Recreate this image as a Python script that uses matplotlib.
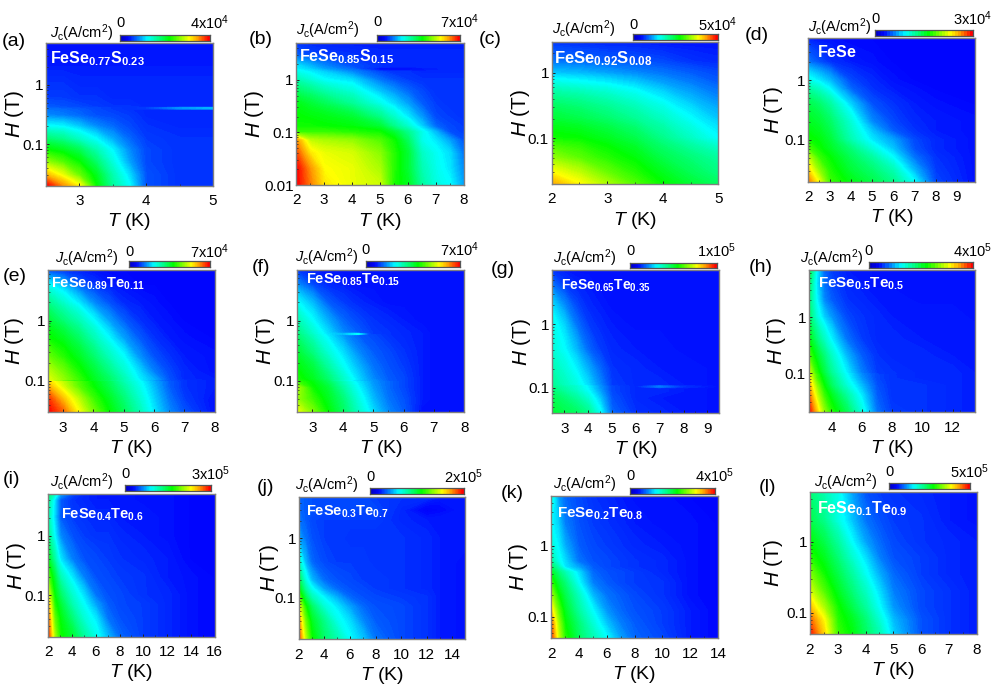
"""Critical current maps Jc(T, H) for FeSe(1-x)S(x) and FeSe(1-x)Te(x), 12 panels."""

import matplotlib
matplotlib.use("Agg")
import matplotlib.pyplot as plt
import numpy as np
from matplotlib.colors import LinearSegmentedColormap
from matplotlib.ticker import FixedLocator, LogLocator, NullFormatter

plt.rcParams["font.family"] = ["Liberation Sans", "DejaVu Sans"]
plt.rcParams["mathtext.fontset"] = "custom"
plt.rcParams["mathtext.rm"] = "Liberation Sans"
plt.rcParams["mathtext.it"] = "Liberation Sans:italic"
plt.rcParams["mathtext.bf"] = "Liberation Sans:bold"

W, H_PX = 997, 685

# Jc values are in percent of each panel's colour bar maximum
a_T = [2.5, 2.75, 3, 3.25, 3.5, 3.75, 4, 4.5, 5]
a_H = [0.02, 0.03, 0.05, 0.08, 0.12, 0.2, 0.3, 0.38, 0.40, 0.42, 0.6, 1, 2, 5]
a_J = [
    [100, 88, 78, 55, 40, 30, 15, 12, 12],
    [85, 76, 64, 52, 38, 27, 15, 12, 12],
    [68, 62, 55, 45, 33, 22, 14, 12, 12],
    [55, 52, 47, 38, 29, 20, 14, 12, 12],
    [45, 42, 36, 30, 23, 17, 13, 12, 12],
    [30, 29, 25, 20, 17, 14, 12, 11, 11],
    [20, 19, 17, 15, 14, 13, 11, 11, 11],
    [18, 17, 16, 14, 13, 12, 11, 11, 11],
    [17, 16, 15, 14, 13, 12, 13, 21, 24],
    [16, 15, 14, 13, 12, 12, 11, 11, 11],
    [13, 13, 12, 12, 11, 11, 11, 11, 11],
    [12, 12, 11, 11, 11, 11, 11, 11, 11],
    [10, 10, 10, 10, 10, 10, 10, 10, 10],
    [9, 9, 9, 9, 9, 9, 9, 9, 9],
]

b_T = [2, 2.5, 3, 4, 5, 5.5, 6, 6.5, 7, 7.5, 8]
b_H = [0.01, 0.02, 0.04, 0.07, 0.1, 0.13, 0.2, 0.35, 0.6, 1, 1.4, 1.6, 1.8, 3, 5]
b_J = [
    [100, 90, 80, 76, 73, 57, 52, 40, 33, 30, 22],
    [100, 88, 78, 76, 70, 58, 50, 38, 32, 28, 20],
    [94, 80, 76, 74, 67, 58, 50, 36, 31, 27, 18],
    [88, 72, 70, 68, 62, 56, 46, 32, 28, 22, 15],
    [60, 60, 60, 58, 56, 50, 42, 32, 24, 15, 13],
    [56, 56, 55, 54, 50, 42, 35, 26, 17, 14, 13],
    [55, 54, 53, 50, 42, 35, 28, 21, 14, 13, 12],
    [53, 50, 47, 41, 32, 27, 22, 16, 13, 12, 12],
    [46, 43, 39, 34, 25, 21, 17, 14, 12, 12, 12],
    [38, 34, 30, 27, 18, 15, 13, 12, 12, 12, 12],
    [32, 29, 26, 20, 14, 12, 12, 11, 11, 11, 11],
    [29, 26, 22, 17, 7, 7, 7, 9, 10, 11, 11],
    [28, 24, 20, 15, 12, 11, 11, 11, 11, 11, 11],
    [16, 14, 13, 12, 11, 11, 11, 11, 11, 11, 11],
    [12, 11, 10, 10, 10, 10, 10, 10, 10, 10, 10],
]

c_T = [2, 2.5, 3, 3.5, 4, 4.5, 5]
c_H = [0.02, 0.03, 0.05, 0.1, 0.2, 0.4, 0.7, 1, 1.5, 3]
c_J = [
    [86, 78, 70, 62, 55, 50, 46],
    [78, 72, 64, 58, 52, 47, 43],
    [68, 63, 58, 54, 48, 44, 40],
    [56, 55, 52, 48, 42, 36, 30],
    [50, 48, 45, 41, 36, 30, 25],
    [43, 41, 38, 34, 29, 24, 20],
    [33, 31, 29, 26, 22, 19, 16],
    [25, 24, 22, 20, 18, 16, 14],
    [18, 17, 16, 15, 14, 12, 11],
    [12, 11, 10, 10, 9, 9, 9],
]

d_T = [2, 2.5, 3, 4, 5, 6, 7, 8, 9.85]
d_H = [0.02, 0.03, 0.05, 0.07, 0.1, 0.14, 0.2, 0.4, 0.7, 1, 2, 5]
d_J = [
    [90, 76, 60, 53, 48, 42, 30, 14, 9],
    [82, 68, 58, 50, 45, 38, 24, 13, 9],
    [72, 60, 55, 47, 40, 30, 18, 12, 9],
    [62, 56, 52, 44, 34, 25, 15, 11, 9],
    [56, 54, 50, 38, 28, 22, 14, 11, 9],
    [54, 52, 48, 36, 25, 16, 12, 10, 9],
    [52, 50, 46, 34, 20, 14, 11, 10, 9],
    [48, 45, 40, 26, 15, 12, 10, 9, 8],
    [40, 36, 30, 17, 12, 10, 9, 8, 8],
    [32, 28, 24, 14, 11, 9, 8, 8, 8],
    [18, 15, 12, 10, 9, 8, 8, 8, 8],
    [10, 9, 9, 8, 8, 8, 8, 8, 8],
]

e_T = [2.5, 3, 3.5, 4, 4.5, 5, 5.5, 6, 6.5, 7, 8]
e_H = [0.03, 0.05, 0.08, 0.095, 0.1, 0.105, 0.14, 0.25, 0.5, 1, 2, 4, 7]
e_J = [
    [100, 92, 78, 65, 55, 47, 38, 28, 20, 15, 9],
    [96, 84, 72, 60, 52, 44, 35, 26, 18, 13, 9],
    [86, 74, 63, 55, 48, 40, 32, 24, 16, 12, 10],
    [82, 72, 62, 54, 47, 38, 31, 23, 16, 12, 10],
    [76, 52, 56, 52, 42, 37, 30, 18, 15, 12, 10],
    [75, 68, 60, 52, 46, 38, 29, 23, 15, 11, 10],
    [72, 65, 57, 50, 43, 35, 27, 19, 14, 11, 9],
    [64, 58, 52, 45, 37, 30, 21, 15, 12, 10, 9],
    [56, 52, 46, 38, 30, 22, 16, 12, 10, 9, 8],
    [50, 44, 38, 30, 22, 16, 12, 10, 9, 8, 8],
    [42, 35, 28, 20, 15, 11, 10, 9, 8, 8, 8],
    [30, 24, 16, 12, 10, 9, 8, 8, 8, 8, 8],
    [13, 11, 10, 9, 8, 8, 8, 8, 8, 8, 8],
]

f_T = [2.5, 3, 3.5, 4, 4.5, 5, 5.5, 6, 6.6, 7, 8]
f_H = [0.03, 0.05, 0.075, 0.095, 0.1, 0.105, 0.17, 0.3, 0.58, 0.6, 0.62, 1, 2, 4, 7]
f_J = [
    [76, 66, 55, 46, 36, 27, 20, 16, 9, 9, 9],
    [68, 60, 52, 44, 33, 24, 18, 15, 10, 9, 9],
    [70, 56, 50, 40, 30, 22, 17, 14, 10, 9, 9],
    [60, 54, 47, 37, 28, 21, 17, 14, 10, 9, 9],
    [58, 53, 46, 30, 25, 21, 16, 14, 10, 9, 9],
    [57, 52, 45, 36, 27, 20, 16, 14, 10, 9, 9],
    [54, 49, 40, 31, 24, 18, 15, 13, 10, 9, 9],
    [50, 43, 34, 27, 20, 16, 14, 12, 10, 9, 9],
    [44, 36, 28, 21, 16, 14, 12, 11, 10, 9, 9],
    [43, 35, 27, 24, 30, 7, 7, 7, 10, 9, 9],
    [43, 35, 27, 20, 16, 13, 12, 11, 10, 9, 9],
    [38, 30, 23, 17, 14, 12, 11, 10, 9, 9, 9],
    [30, 24, 16, 13, 11, 10, 9, 9, 9, 9, 9],
    [20, 14, 11, 10, 9, 9, 9, 9, 9, 9, 9],
    [12, 10, 9, 9, 9, 9, 9, 9, 9, 9, 9],
]

g_T = [2.5, 3, 3.5, 4, 4.5, 5, 6, 7, 8, 9.5]
g_H = [0.04, 0.07, 0.09, 0.1, 0.105, 0.11, 0.2, 0.4, 1, 2, 4, 7]
g_J = [
    [50, 48, 46, 42, 31, 17, 12, 11, 10, 9],
    [47, 44, 40, 34, 25, 15, 11, 10, 10, 9],
    [44, 40, 36, 30, 22, 14, 11, 11, 10, 9],
    [43, 39, 35, 29, 21, 14, 11, 11, 10, 9],
    [42, 38, 35, 29, 21, 14, 11, 19, 12, 9],
    [41, 37, 33, 27, 20, 13, 11, 11, 10, 9],
    [38, 34, 29, 23, 17, 12, 11, 10, 10, 9],
    [34, 30, 24, 17, 13, 11, 10, 10, 9, 9],
    [32, 26, 18, 13, 11, 10, 9, 9, 9, 9],
    [27, 20, 14, 11, 10, 9, 9, 9, 9, 9],
    [18, 13, 11, 10, 9, 9, 9, 9, 9, 9],
    [12, 10, 9, 9, 9, 9, 9, 9, 9, 9],
]

h_T = [2.5, 3, 3.5, 4, 5, 6, 7, 8, 10, 12, 13.5]
h_H = [0.02, 0.04, 0.06, 0.08, 0.092, 0.095, 0.098, 0.2, 0.4, 1, 2, 4, 7]
h_J = [
    [100, 84, 68, 58, 47, 33, 18, 13, 12, 11, 10],
    [92, 74, 60, 52, 40, 28, 16, 12, 12, 11, 10],
    [86, 68, 55, 46, 34, 24, 15, 12, 12, 11, 10],
    [80, 62, 52, 44, 31, 21, 14, 12, 11, 11, 10],
    [77, 61, 50, 42, 30, 20, 14, 12, 11, 11, 10],
    [76, 60, 50, 42, 30, 20, 14, 7, 6, 7, 10],
    [75, 59, 49, 41, 29, 19, 13, 12, 11, 11, 10],
    [62, 52, 44, 36, 24, 16, 12, 11, 11, 10, 10],
    [54, 44, 36, 29, 18, 13, 11, 11, 10, 10, 10],
    [46, 34, 26, 21, 14, 12, 11, 10, 10, 10, 9],
    [44, 30, 20, 16, 12, 11, 10, 10, 9, 9, 9],
    [46, 28, 18, 14, 11, 10, 9, 9, 9, 9, 9],
    [50, 30, 17, 13, 10, 10, 9, 9, 9, 9, 9],
]

i_T = [2, 2.5, 3, 4, 5, 6, 7, 8, 10, 12, 14, 16]
i_H = [0.02, 0.04, 0.07, 0.1, 0.2, 0.4, 1, 2, 4, 5]
i_J = [
    [95, 70, 56, 50, 40, 32, 24, 17, 13, 11, 9, 8],
    [90, 64, 54, 44, 34, 28, 18, 15, 13, 11, 9, 8],
    [84, 58, 50, 38, 30, 22, 16, 14, 13, 11, 9, 8],
    [75, 55, 46, 35, 27, 18, 15, 14, 12, 11, 9, 8],
    [62, 50, 38, 28, 19, 15, 14, 13, 12, 10, 9, 8],
    [52, 40, 28, 19, 15, 14, 13, 12, 11, 10, 8, 8],
    [42, 30, 20, 15, 13, 12, 12, 11, 10, 9, 8, 8],
    [38, 27, 16, 13, 12, 11, 11, 10, 10, 9, 8, 8],
    [40, 28, 16, 12, 11, 10, 10, 10, 9, 9, 8, 8],
    [45, 35, 22, 14, 11, 10, 10, 10, 9, 9, 8, 8],
]

j_T = [2, 2.5, 3, 4, 5, 6, 7, 8, 10, 12, 13, 15]
j_H = [0.02, 0.04, 0.07, 0.1, 0.14, 0.2, 0.4, 1, 2, 3, 5]
j_J = [
    [95, 72, 56, 45, 38, 30, 25, 18, 14, 12, 10, 9],
    [88, 65, 52, 42, 32, 27, 20, 16, 14, 12, 10, 9],
    [76, 57, 46, 34, 28, 22, 17, 15, 14, 12, 10, 9],
    [64, 48, 38, 29, 23, 17, 15, 14, 13, 12, 10, 9],
    [54, 40, 31, 22, 17, 15, 14, 13, 12, 11, 10, 9],
    [48, 33, 24, 17, 15, 14, 13, 13, 12, 11, 10, 9],
    [36, 24, 17, 14, 13, 13, 13, 12, 12, 11, 10, 9],
    [22, 18, 15, 13, 13, 12, 12, 12, 12, 11, 10, 10],
    [18, 16, 14, 13, 13, 13, 13, 13, 11, 10, 10, 10],
    [17, 16, 15, 14, 14, 14, 14, 14, 11, 7, 8, 10],
    [17, 16, 15, 14, 14, 14, 14, 13, 12, 12, 10, 10],
]

k_T = [2, 2.5, 3, 4, 5, 6, 7, 8, 10, 12, 14]
k_H = [0.05, 0.08, 0.12, 0.2, 0.3, 0.42, 0.5, 0.6, 1, 2, 5]
k_J = [
    [96, 74, 58, 46, 38, 30, 22, 17, 14, 10, 8],
    [92, 70, 55, 44, 34, 25, 19, 16, 13, 10, 8],
    [82, 64, 52, 40, 30, 21, 17, 15, 13, 10, 8],
    [70, 56, 48, 36, 24, 18, 16, 14, 12, 9, 8],
    [60, 50, 44, 30, 19, 16, 14, 13, 12, 9, 8],
    [52, 44, 38, 27, 17, 15, 14, 13, 11, 9, 8],
    [46, 38, 28, 22, 16, 14, 13, 12, 11, 9, 8],
    [40, 32, 27, 18, 15, 14, 13, 12, 11, 9, 8],
    [34, 29, 23, 16, 14, 13, 12, 11, 10, 9, 8],
    [30, 26, 19, 15, 13, 12, 11, 10, 9, 9, 8],
    [34, 22, 17, 14, 12, 11, 10, 9, 9, 8, 8],
]

l_T = [2, 2.5, 3, 3.5, 4, 4.5, 5, 6, 7, 8]
l_H = [0.05, 0.08, 0.12, 0.2, 0.35, 0.6, 1, 2, 5]
l_J = [
    [98, 82, 60, 54, 46, 38, 26, 15, 12, 10],
    [92, 78, 58, 52, 44, 34, 24, 15, 12, 10],
    [84, 70, 56, 48, 40, 30, 21, 14, 12, 10],
    [74, 62, 52, 44, 36, 27, 19, 14, 12, 10],
    [66, 56, 48, 40, 31, 23, 17, 13, 11, 10],
    [58, 52, 44, 35, 27, 19, 15, 13, 11, 10],
    [54, 48, 40, 30, 22, 17, 14, 12, 11, 10],
    [48, 42, 33, 25, 18, 15, 13, 12, 10, 9],
    [44, 38, 32, 22, 15, 13, 12, 11, 10, 9],
]

letters = ["(a)", "(b)", "(c)", "(d)", "(e)", "(f)", "(g)", "(h)", "(i)", "(j)", "(k)", "(l)"]
compounds = [
    r"FeSe_{0.77}S_{0.23}", r"FeSe_{0.85}S_{0.15}", r"FeSe_{0.92}S_{0.08}", r"FeSe",
    r"FeSe_{0.89}Te_{0.11}", r"FeSe_{0.85}Te_{0.15}", r"FeSe_{0.65}Te_{0.35}", r"FeSe_{0.5}Te_{0.5}",
    r"FeSe_{0.4}Te_{0.6}", r"FeSe_{0.3}Te_{0.7}", r"FeSe_{0.2}Te_{0.8}", r"FeSe_{0.1}Te_{0.9}",
]
scale_labels = [
    r"4x10$^4$", r"7x10$^4$", r"5x10$^4$", r"3x10$^4$",
    r"7x10$^4$", r"7x10$^4$", r"1x10$^5$", r"4x10$^5$",
    r"3x10$^5$", r"2x10$^5$", r"4x10$^5$", r"5x10$^5$",
]
T_ranges = [(2.5, 5), (2, 8), (2, 5), (2, 9.85), (2.5, 8), (2.5, 8),
            (2.5, 9.5), (2.5, 13.5), (2, 16), (2, 15), (2, 14), (2, 8)]
H_ranges = [(0.02, 5), (0.01, 5), (0.02, 3), (0.02, 5), (0.03, 7), (0.03, 7),
            (0.04, 7), (0.02, 7), (0.02, 5), (0.02, 5), (0.05, 5), (0.05, 5)]
T_ticks = [
    [3, 4, 5], [2, 3, 4, 5, 6, 7, 8], [2, 3, 4, 5], [2, 3, 4, 5, 6, 7, 8, 9],
    [3, 4, 5, 6, 7, 8], [3, 4, 5, 6, 7, 8], [3, 4, 5, 6, 7, 8, 9], [4, 6, 8, 10, 12],
    [2, 4, 6, 8, 10, 12, 14, 16], [2, 4, 6, 8, 10, 12, 14], [2, 4, 6, 8, 10, 12, 14], [2, 3, 4, 5, 6, 7, 8],
]
grids = [
    (a_T, a_H, a_J), (b_T, b_H, b_J), (c_T, c_H, c_J), (d_T, d_H, d_J),
    (e_T, e_H, e_J), (f_T, f_H, f_J), (g_T, g_H, g_J), (h_T, h_H, h_J),
    (i_T, i_H, i_J), (j_T, j_H, j_J), (k_T, k_H, k_J), (l_T, l_H, l_J),
]

# layout in pixels: axes (x0, y0, x1, y1), ylabel offset from the axes
ax_boxes = [
    (46, 43, 213, 185.7), (296.3, 43, 463.7, 185), (551.7, 41.7, 718.3, 184), (808.3, 38.3, 975, 181.7),
    (48, 269.7, 214.7, 412.3), (297.3, 269.7, 464.3, 412.3), (552.3, 270.3, 719.3, 413.3), (808.7, 269.7, 975.3, 412.3),
    (48.3, 494.3, 214.7, 636.7), (298.7, 497, 465.3, 639.3), (551, 496, 718, 638.3), (810, 492.3, 976.7, 634.3),
]
ylabel_offsets = [32, 42, 31, 35, 33, 32, 31, 32, 32, 29, 33, 37]
cbar_boxes = [
    (120.3, 35, 209.7, 41), (377.3, 35, 460, 41), (633.3, 34.3, 717.7, 40), (875, 30, 973, 36),
    (129, 261, 210, 267), (365.7, 261, 460, 267), (630, 263, 716.7, 268.3), (868.7, 262.3, 973, 268),
    (125, 485.3, 210.7, 490.7), (370, 488.3, 464, 494), (630, 488, 715, 493.7), (889.3, 483.3, 969.7, 489),
]
scale_label_y = [23, 22, 25, 19, 252, 250, 251, 251, 474, 477, 476, 472]
jc_label_pos = [
    (82, 33), (328, 30), (584, 29), (840, 27), (87, 258), (327, 257),
    (585, 258), (832, 258), (82, 482), (327, 485), (585, 484), (846, 482),
]
letter_pos = [
    (14, 42), (261, 40), (490, 40), (757, 35), (15, 277), (261, 268),
    (503, 270), (761, 268), (12, 480), (265, 488), (512, 493), (767, 488),
]
compound_pos = [
    (50, 59), (299, 57), (554, 59), (817, 52), (51, 284), (306, 280),
    (561, 286), (818, 284), (61, 515), (306, 512), (557, 514), (817, 509),
]
compound_sizes = [11.5, 11.5, 12, 11.5, 10.5, 10.5, 10, 11, 10.5, 10.5, 11, 11.5]

jc_cmap = LinearSegmentedColormap.from_list("jc_rainbow", [
    (0.00, (0.00, 0.00, 0.78)),
    (0.08, (0.00, 0.02, 1.00)),
    (0.18, (0.00, 0.45, 1.00)),
    (0.30, (0.00, 1.00, 1.00)),
    (0.42, (0.00, 1.00, 0.55)),
    (0.55, (0.00, 1.00, 0.00)),
    (0.78, (1.00, 1.00, 0.00)),
    (0.88, (1.00, 0.60, 0.00)),
    (1.00, (1.00, 0.00, 0.00)),
])


def px_rect(box):
    x0, y0, x1, y1 = box
    return [x0 / W, 1 - y1 / H_PX, (x1 - x0) / W, (y1 - y0) / H_PX]


def px_text(fig, x, y, s, **kwargs):
    kwargs.setdefault("ha", "center")
    kwargs.setdefault("va", "center")
    fig.text(x / W, 1 - y / H_PX, s, **kwargs)


def draw_panel(fig, n):
    T, H, J = grids[n]
    box = ax_boxes[n]
    ax = fig.add_axes(px_rect(box))
    cs = ax.contourf(T, H, np.array(J), levels=np.linspace(0, 100, 161), cmap=jc_cmap, vmin=0, vmax=100)
    cs.set_edgecolor("face")
    cs.set_linewidth(0.4)

    ax.set_yscale("log")
    ax.set_xlim(*T_ranges[n])
    ax.set_ylim(*H_ranges[n])
    decades = [v for v in (0.01, 0.1, 1) if v >= H_ranges[n][0]]
    ax.yaxis.set_major_locator(FixedLocator(decades))
    ax.set_yticklabels([f"{v:g}" for v in decades])
    ax.yaxis.set_minor_locator(LogLocator(base=10, subs=np.arange(2, 10), numticks=12))
    ax.yaxis.set_minor_formatter(NullFormatter())
    ax.set_xticks(T_ticks[n])
    step = T_ticks[n][1] - T_ticks[n][0]
    ax.xaxis.set_minor_locator(FixedLocator(np.arange(T_ranges[n][0], T_ranges[n][1] + 0.01, step / 2)))
    ax.tick_params(which="major", direction="in", length=2.5, width=0.7, labelsize=11, color="#222222")
    ax.tick_params(which="minor", direction="in", length=1.5, width=0.5, color="#222222")
    ax.tick_params(axis="x", which="major", pad=6)
    ax.tick_params(axis="y", which="major", pad=2)
    for spine in ax.spines.values():
        spine.set_color("#808080")
        spine.set_linewidth(1.0)

    x0, y0, x1, y1 = box
    px_text(fig, (x0 + x1) / 2, y1 + 36, r"$\mathit{T}$ (K)", fontsize=14)
    px_text(fig, x0 - ylabel_offsets[n], (y0 + y1) / 2, r"$\mathit{H}$ (T)", fontsize=15, rotation=90)

    px_text(fig, *letter_pos[n], letters[n], fontsize=14)
    px_text(fig, *jc_label_pos[n], r"$\mathit{J}_{\mathrm{c}}$(A/cm$^2$)", fontsize=10.5)
    cx, cy = compound_pos[n]
    px_text(fig, cx, cy, "$\\mathbf{" + compounds[n] + "}$", ha="left", color="white",
            fontsize=compound_sizes[n])

    bar = cbar_boxes[n]
    cax = fig.add_axes(px_rect(bar))
    cax.imshow(np.linspace(0, 100, 32)[None, :], aspect="auto", cmap=jc_cmap, vmin=0, vmax=100)
    cax.set_xticks([])
    cax.set_yticks([])
    for spine in cax.spines.values():
        spine.set_color("#555555")
        spine.set_linewidth(0.9)
    px_text(fig, bar[0], scale_label_y[n], "0", fontsize=10.5)
    px_text(fig, bar[2], scale_label_y[n], scale_labels[n], fontsize=10.5)


fig = plt.figure(figsize=(W / 100, H_PX / 100), dpi=100)
for n in range(len(grids)):
    draw_panel(fig, n)
fig.savefig("out.png", dpi=100)
plt.close(fig)
